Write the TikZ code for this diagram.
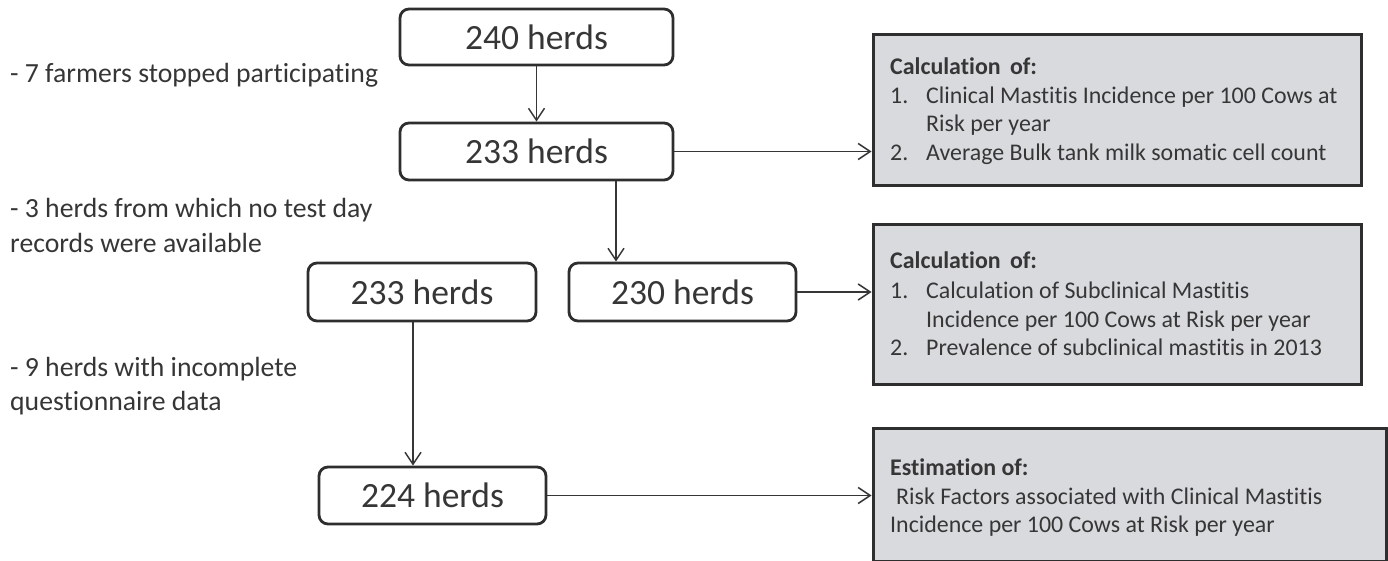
\documentclass[tikz,border=0pt]{standalone}
\usepackage{fontspec}
\setmainfont{Carlito}[Ligatures={NoCommon}]
\usetikzlibrary{arrows.meta}
\definecolor{ink}{HTML}{363636}
\definecolor{edge}{HTML}{2E2E2E}
\definecolor{panel}{HTML}{D8DADD}
\tikzset{
  herd/.style={draw=edge, line width=2.8pt, rounded corners=9pt, fill=white, inner sep=0pt,
    text=ink, font=\fontsize{35.5}{40}\selectfont},
  res/.style={draw=edge, line width=3pt, fill=panel, inner sep=0pt},
  txt/.style={anchor=base west, inner sep=0pt, text=ink, font=\fontsize{23.9}{28}\selectfont},
  note/.style={anchor=base west, inner sep=0pt, text=ink, font=\fontsize{27.7}{32}\selectfont},
  arr/.style={draw=ink, line width=1.5pt, -{Straight Barb[length=12pt,width=16pt,line width=1.5pt]}},
  ln/.style={draw=ink, line width=1.5pt}
}
\begin{document}
\begin{tikzpicture}[x=1pt,y=-1pt]
\useasboundingbox (0,0) rectangle (1388,561);
\fill[white] (0,0) rectangle (1388,561);

% herd boxes
\node[herd, minimum width=273pt, minimum height=56pt] (a) at (536.5,37) {240 herds};
\node[herd, minimum width=273pt, minimum height=57pt] (b) at (536.5,151.5) {233 herds};
\node[herd, minimum width=228pt, minimum height=58pt] (d) at (422,292) {233 herds};
\node[herd, minimum width=227pt, minimum height=58pt] (c) at (682.5,292) {230 herds};
\node[herd, minimum width=227pt, minimum height=57pt] (e) at (432.5,495.5) {224 herds};

% result boxes
\node[res, minimum width=488pt, minimum height=151pt] (r1) at (1117,110.5) {};
\node[res, minimum width=488pt, minimum height=159pt] (r2) at (1117,304.5) {};
\node[res, minimum width=513pt, minimum height=133pt] (r3) at (1129.5,494.5) {};

% result texts
\node[txt] (r1h) at (890,75) {\textbf{Calculation\, of:}};
\node[txt] (r1n1) at (890,104) {1.};
\node[txt] (r1a) at (926,104) {Clinical Mastitis Incidence per 100 Cows at};
\node[txt] (r1b) at (926,132) {Risk per year};
\node[txt] (r1n2) at (890,161) {2.};
\node[txt] (r1c) at (926,161) {Average Bulk tank milk somatic cell count};

\node[txt] (r2h) at (890,269) {\textbf{Calculation\, of:}};
\node[txt] (r2n1) at (890,298) {1.};
\node[txt] (r2a) at (926,298) {Calculation of Subclinical Mastitis};
\node[txt] (r2b) at (926,327) {Incidence per 100 Cows at Risk per year};
\node[txt] (r2n2) at (890,355) {2.};
\node[txt] (r2c) at (926,355) {Prevalence of subclinical mastitis in 2013};

\node[txt] (r3h) at (890,475) {\textbf{Estimation of:}};
\node[txt] (r3a) at (896,504) {Risk Factors associated with Clinical Mastitis};
\node[txt] (r3b) at (890,532) {Incidence per 100 Cows at Risk per year};

% side notes
\node[note] (n1) at (10,83) {- 7 farmers stopped participating};
\node[note] (n2) at (10,218) {- 3 herds from which no test day};
\node[note] (n3) at (10,252) {records were available};
\node[note] (n4) at (10,376) {- 9 herds with incomplete};
\node[note] (n5) at (10,410) {questionnaire data};

% connectors
\coordinate (bc) at (616,0);
\coordinate (de) at (413,0);
\draw[arr] (a) -- (b);
\draw[arr] (b.east) -- (r1.west |- b.east);
\draw[arr] (b.south -| bc) -- (c.north -| bc);
\draw[arr] (d.south -| de) -- (e.north -| de);
\draw[arr] (c.east) -- (r2.west |- c.east);
\draw[arr] (e.east) -- (r3.west |- e.east);
\end{tikzpicture}
\end{document}
